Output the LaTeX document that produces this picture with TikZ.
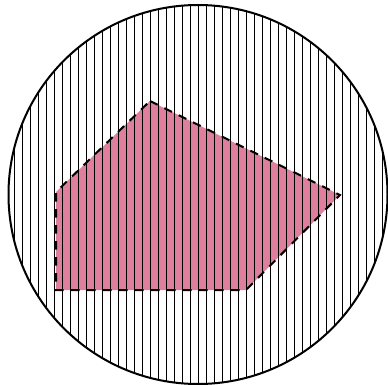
\documentclass[tikz,border=0pt]{standalone}
\definecolor{polypink}{RGB}{222,127,157}
\tikzset{
  hatchline/.style={black, line width=1.1pt},
  rim/.style={black, line width=2pt},
  polyedge/.style={black, line width=2pt, dash pattern=on 8.5pt off 7.5pt},
}
\begin{document}
\begin{tikzpicture}[x=1pt,y=-1pt]
\useasboundingbox (0,0) rectangle (388,385);
\coordinate (c) at (198,194.5);
\coordinate (p1) at (150,101);
\coordinate (p2) at (340,195);
\coordinate (p3) at (246,290);
\coordinate (p4) at (56,290);
\coordinate (p5) at (56,192);
\fill[polypink] (p1) -- (p2) -- (p3) -- (p4) -- (p5) -- cycle;
\begin{scope}
  \clip (c) circle (189.5);
  \foreach \k in {0,...,47} {
    \draw[hatchline] ({14.7+8*\k},0) -- ({14.7+8*\k},385);
  }
\end{scope}
\draw[polyedge] (p1) -- (p2) -- (p3) -- (p4) -- (p5) -- cycle;
\draw[rim] (c) circle (189.5);
\end{tikzpicture}
\end{document}
